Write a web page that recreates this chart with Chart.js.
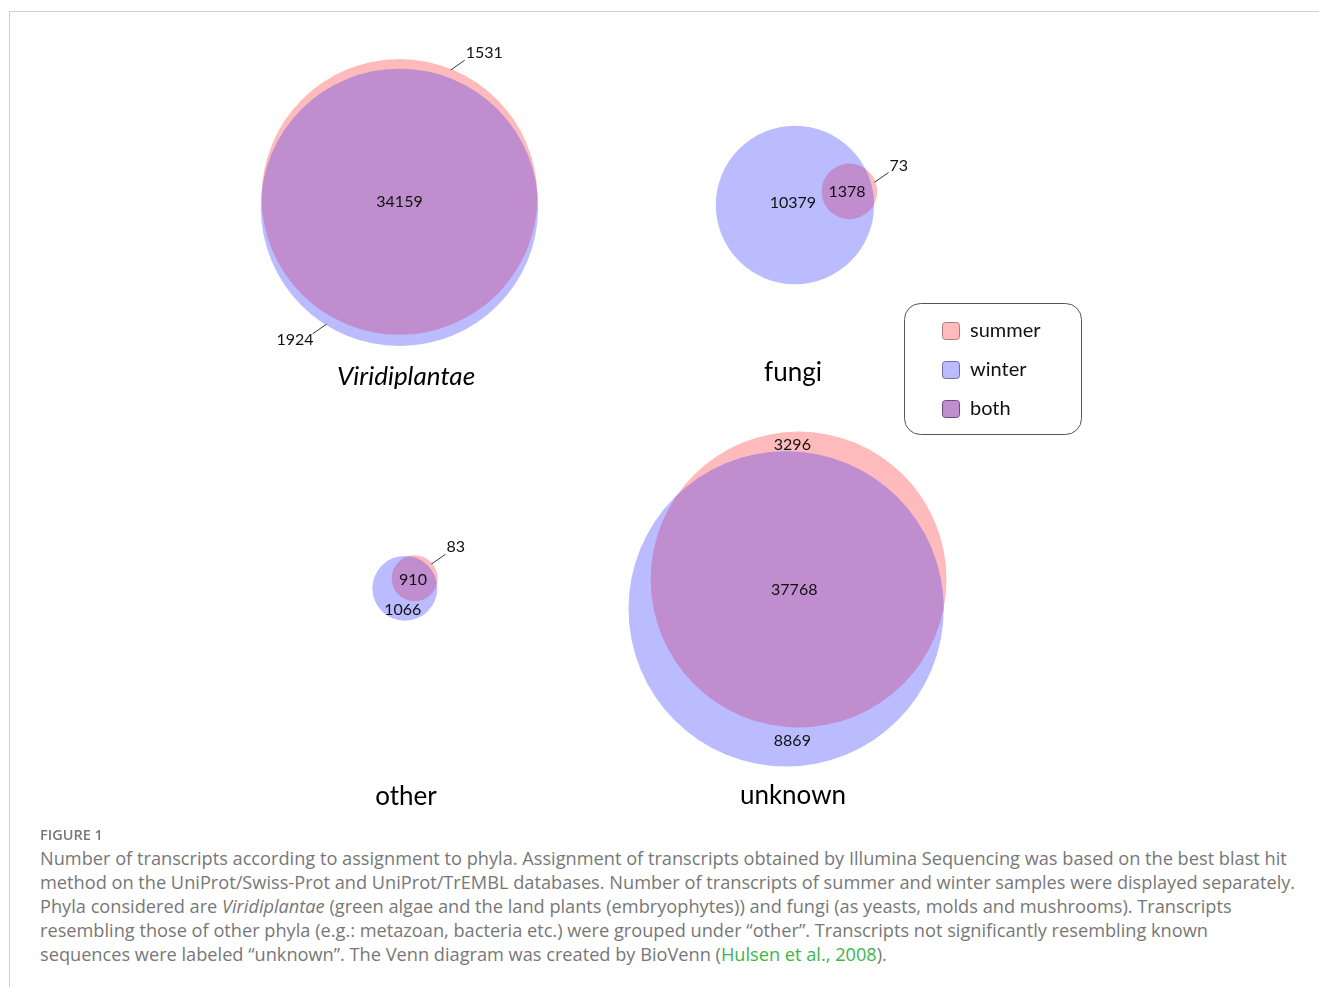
<!DOCTYPE html>
<html>
<head>
<meta charset="utf-8">
<script src="https://cdn.jsdelivr.net/npm/chart.js@4.4.0/dist/chart.umd.min.js"></script>
<style>
  html, body { margin: 0; padding: 0; background: #fff; }
  body { width: 1319px; height: 987px; position: relative; overflow: hidden; }
  #frame { position: absolute; left: 9px; top: 11px; right: 0; bottom: 0;
           border-top: 1px solid #cfcfcf; border-left: 1px solid #cfcfcf; }
  #venn { position: absolute; left: 0; top: 0; width: 1319px; height: 830px; }
  #figlabel { position: absolute; left: 40px; top: 825px; font: 600 14.5px "Open Sans", sans-serif; color: #777; }
  #caption { position: absolute; left: 40px; top: 846px; font: 18.2px/24px "Open Sans", sans-serif;
             color: #777; white-space: nowrap; }
  #caption a { color: #3db54a; text-decoration: none; }
</style>
</head>
<body>
<div id="frame"></div>
<canvas id="venn" width="1319" height="830"></canvas>
<div id="figlabel">FIGURE 1</div>
<div id="caption">Number of transcripts according to assignment to phyla. Assignment of transcripts obtained by Illumina Sequencing was based on the best blast hit<br>method on the UniProt/Swiss-Prot and UniProt/TrEMBL databases. Number of transcripts of summer and winter samples were displayed separately.<br>Phyla considered are <i>Viridiplantae</i> (green algae and the land plants (embryophytes)) and fungi (as yeasts, molds and mushrooms). Transcripts<br>resembling those of other phyla (e.g.: metazoan, bacteria etc.) were grouped under “other”. Transcripts not significantly resembling known<br>sequences were labeled “unknown”. The Venn diagram was created by BioVenn (<a href="#">Hulsen et al., 2008</a>).</div>
<script>
// Phyla and transcript counts per season
const phyla = ["Viridiplantae", "fungi", "other", "unknown"];
const summerOnly = [1531, 73, 83, 3296];
const winterOnly = [1924, 10379, 1066, 8869];
const both = [34159, 1378, 910, 37768];
const legendLabels = ["summer", "winter", "both"];

// Colours
const summerColor = "rgb(255,187,187)";
const winterColor = "rgb(187,187,255)";
const bothColor = "rgb(192,141,207)";
const legendBorders = ["#b27b7b", "#6f6fa6", "#6d4a7c"];

// Layout of the four diagrams (box centres, direction summer vs winter, titles)
const pxPerSqrt = 0.73;
const boxCenters = [[399.5, 202.5], [796.5, 205], [405, 588], [787.5, 599]];
const directions = [-90, -14, -46, -67];
const titlePos = [[406, 377], [793, 373], [406, 797], [793, 796]];
const titleItalic = [true, false, false, false];
const summerLabelMode = [{ leader: -68 }, { leader: -20 }, { leader: -40 }, { mode: "top" }];
const winterLabelMode = [{ leader: 122 }, { mode: "center" }, { mode: "bottom" }, { mode: "bottomMid" }];

// Area of the overlap of two circles at distance d
function lensArea(r1, r2, d) {
  if (d >= r1 + r2) return 0;
  if (d <= Math.abs(r1 - r2)) return Math.PI * Math.min(r1, r2) ** 2;
  const a1 = r1 * r1 * Math.acos((d * d + r1 * r1 - r2 * r2) / (2 * d * r1));
  const a2 = r2 * r2 * Math.acos((d * d + r2 * r2 - r1 * r1) / (2 * d * r2));
  const k = 0.5 * Math.sqrt((-d + r1 + r2) * (d + r1 - r2) * (d - r1 + r2) * (d + r1 + r2));
  return a1 + a2 - k;
}

// Centre distance that gives the wanted overlap area
function solveDistance(r1, r2, area) {
  let lo = Math.abs(r1 - r2), hi = r1 + r2;
  for (let n = 0; n < 80; n++) {
    const mid = (lo + hi) / 2;
    if (lensArea(r1, r2, mid) > area) lo = mid; else hi = mid;
  }
  return (lo + hi) / 2;
}

// Circle centres and radii (circle area proportional to count)
const winterPoints = [];
const summerPoints = [];
phyla.forEach((p, i) => {
  const rs = pxPerSqrt * Math.sqrt(summerOnly[i] + both[i]);
  const rw = pxPerSqrt * Math.sqrt(winterOnly[i] + both[i]);
  const d = solveDistance(rs, rw, Math.PI * pxPerSqrt * pxPerSqrt * both[i]);
  const a = directions[i] * Math.PI / 180;
  const sx = d * Math.cos(a), sy = d * Math.sin(a);
  const minX = Math.min(-rw, sx - rs), maxX = Math.max(rw, sx + rs);
  const minY = Math.min(-rw, sy - rs), maxY = Math.max(rw, sy + rs);
  const ox = boxCenters[i][0] - (minX + maxX) / 2;
  const oy = boxCenters[i][1] - (minY + maxY) / 2;
  winterPoints.push({ x: ox, y: oy, r: rw });
  summerPoints.push({ x: ox + sx, y: oy + sy, r: rs });
});

// Overlap region painted purple
const overlapPlugin = {
  id: "overlap",
  afterDatasetsDraw(chart) {
    const ctx = chart.ctx;
    const w = chart.getDatasetMeta(0).data;
    const s = chart.getDatasetMeta(1).data;
    w.forEach((el, i) => {
      ctx.save();
      ctx.beginPath();
      ctx.arc(el.x, el.y, el.options.radius, 0, Math.PI * 2);
      ctx.clip();
      ctx.beginPath();
      ctx.arc(s[i].x, s[i].y, s[i].options.radius, 0, Math.PI * 2);
      ctx.fillStyle = bothColor;
      ctx.fill();
      ctx.restore();
    });
  }
};

// Count labels, titles and legend
const labelPlugin = {
  id: "labels",
  afterDraw(chart) {
    const ctx = chart.ctx;
    const w = chart.getDatasetMeta(0).data;
    const s = chart.getDatasetMeta(1).data;
    ctx.save();
    ctx.fillStyle = "#111";
    ctx.strokeStyle = "#333";
    ctx.lineWidth = 1;
    ctx.font = '16px Lato';
    ctx.textBaseline = "middle";

    function leader(el, deg, text) {
      const a = deg * Math.PI / 180;
      const r = el.options.radius - 1;
      const x0 = el.x + r * Math.cos(a), y0 = el.y + r * Math.sin(a);
      const right = Math.cos(a) >= 0;
      const la = (right ? -35 : 145) * Math.PI / 180;
      const x1 = x0 + 17 * Math.cos(la), y1 = y0 + 17 * Math.sin(la);
      ctx.beginPath();
      ctx.moveTo(x0, y0);
      ctx.lineTo(x1, y1);
      ctx.stroke();
      ctx.textAlign = right ? "left" : "right";
      ctx.fillText(text, x1 + 1, y1 + (right ? -7 : 6));
    }

    w.forEach((we, i) => {
      const se = s[i];
      const rw = we.options.radius, rs = se.options.radius;
      const dx = se.x - we.x, dy = se.y - we.y;
      const d = Math.hypot(dx, dy);
      const ux = dx / d, uy = dy / d;

      // both
      const t = (d - rs + rw) / 2;
      ctx.textAlign = "center";
      ctx.fillText(both[i].toString(), we.x + ux * t, we.y + uy * t);

      // summer only
      const sm = summerLabelMode[i];
      if (sm.leader !== undefined) {
        leader(se, sm.leader, summerOnly[i].toString());
      } else {
        ctx.textAlign = "center";
        const y = ((se.y - rs) + (we.y - rw)) / 2 + 3;
        ctx.fillText(summerOnly[i].toString(), (se.x + we.x) / 2, y);
      }

      // winter only
      const wm = winterLabelMode[i];
      ctx.textAlign = "center";
      if (wm.leader !== undefined) {
        leader(we, wm.leader, winterOnly[i].toString());
      } else if (wm.mode === "center") {
        ctx.fillText(winterOnly[i].toString(), we.x - 2, we.y - 2);
      } else if (wm.mode === "bottomMid") {
        const y = ((se.y + rs) + (we.y + rw)) / 2 - 6;
        ctx.fillText(winterOnly[i].toString(), (se.x + we.x) / 2, y);
      } else {
        const y = ((se.y + rs) + (we.y + rw)) / 2 - 1;
        ctx.fillText(winterOnly[i].toString(), we.x - 2, y);
      }
    });

    // titles
    ctx.fillStyle = "#000";
    ctx.textAlign = "center";
    phyla.forEach((p, i) => {
      ctx.font = (titleItalic[i] ? "italic " : "") + "26px Lato";
      ctx.fillText(p, titlePos[i][0], titlePos[i][1]);
    });

    // legend
    ctx.beginPath();
    ctx.roundRect(904.5, 303.5, 177, 131, 16);
    ctx.strokeStyle = "#555";
    ctx.stroke();
    const fills = [summerColor, winterColor, bothColor];
    ctx.font = "20px Lato";
    ctx.textAlign = "left";
    legendLabels.forEach((lab, k) => {
      const y = 331 + k * 39;
      ctx.beginPath();
      ctx.roundRect(942.5, y - 8.5, 17, 17, 3);
      ctx.fillStyle = fills[k];
      ctx.fill();
      ctx.strokeStyle = legendBorders[k];
      ctx.stroke();
      ctx.fillStyle = "#111";
      ctx.fillText(lab, 970, y);
    });
    ctx.restore();
  }
};

// Build the chart
new Chart(document.getElementById("venn"), {
  type: "bubble",
  data: {
    datasets: [{
      label: "winter",
      data: winterPoints,
      backgroundColor: winterColor,
      borderWidth: 0,
      hoverRadius: 0,
      clip: false
    }, {
      label: "summer",
      data: summerPoints,
      backgroundColor: summerColor,
      borderWidth: 0,
      hoverRadius: 0,
      clip: false
    }]
  },
  options: {
    responsive: false,
    animation: false,
    events: [],
    layout: { padding: 0, autoPadding: false },
    scales: {
      x: { type: "linear", min: 0, max: 1319, display: false },
      y: { type: "linear", min: 0, max: 830, reverse: true, display: false }
    },
    plugins: {
      legend: { display: false },
      tooltip: { enabled: false }
    }
  },
  plugins: [overlapPlugin, labelPlugin]
});
</script>
</body>
</html>
